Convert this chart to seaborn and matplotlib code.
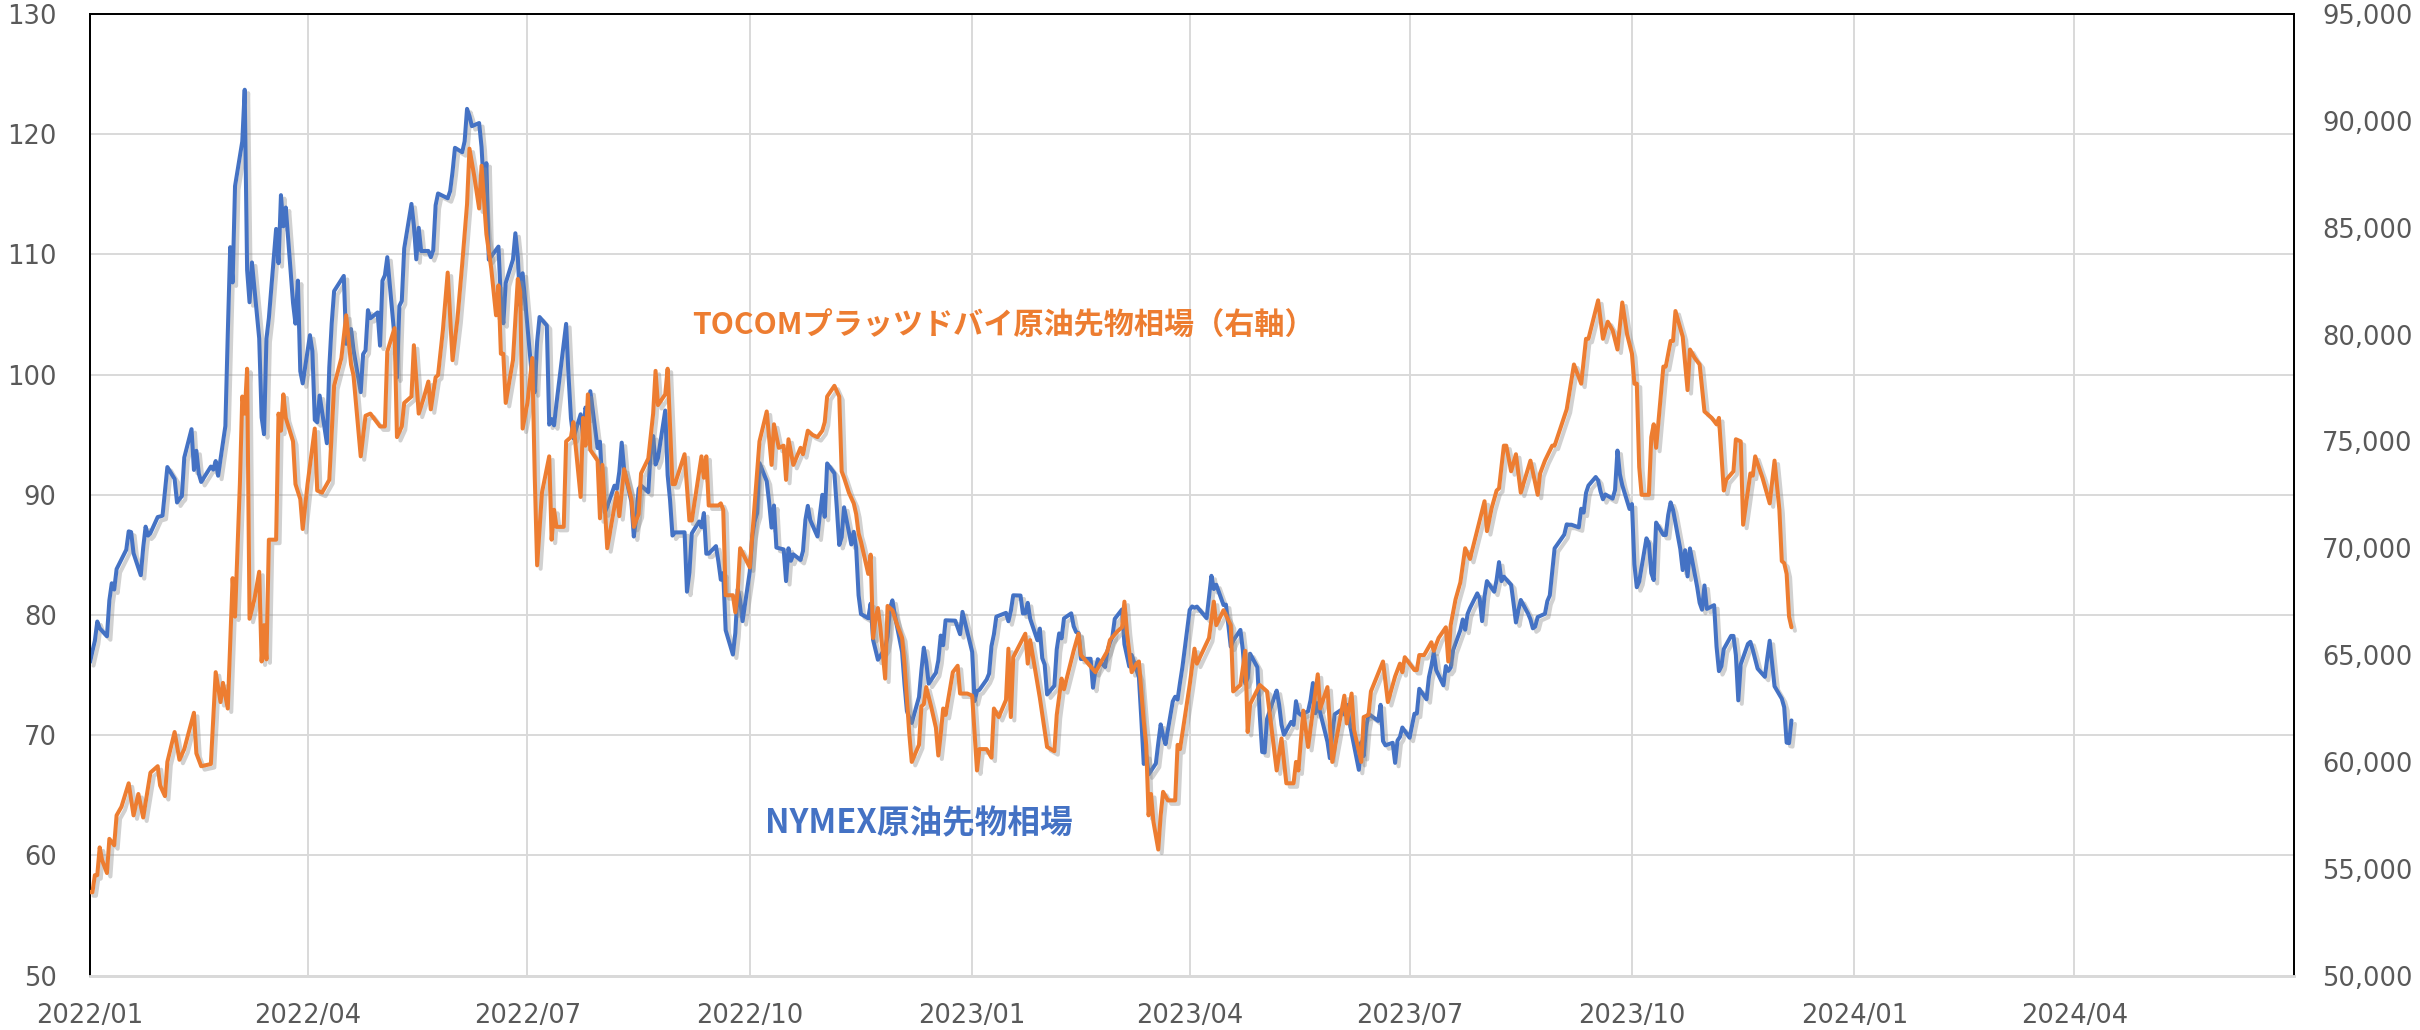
import numpy as np
import pandas as pd
import matplotlib
matplotlib.use("Agg")
import matplotlib.pyplot as plt
import matplotlib.patheffects as pe
from matplotlib.ticker import FuncFormatter
import seaborn as sns

# NYMEX WTI futures, USD/bbl, one value per US trading day
nymex_2022 = [
    76.08, 76.99, 77.85, 79.46, 78.90, 78.23, 81.22, 82.64, 82.12, 83.82, 85.43, 86.96, 86.90, 85.14, 83.31, 85.60, 87.35, 86.61, 86.82, 88.15,
    88.20, 88.26, 90.27, 92.31, 91.32, 89.36, 89.66, 89.88, 93.10, 95.46, 92.07, 93.66, 91.76, 91.07, 92.35, 92.10, 92.81, 91.59, 95.72,
    103.41, 110.60, 107.67, 115.68, 119.40, 123.70, 108.70, 106.02, 109.33, 103.01, 96.44, 95.04, 102.98, 104.70, 112.12, 109.27, 114.93, 112.34, 113.90, 105.96, 104.24, 107.82, 100.28,
    99.27, 103.28, 101.96, 96.23, 96.03, 98.26, 94.29, 100.60, 104.25, 106.95, 108.21, 102.56, 102.75, 103.79, 102.07, 98.54, 101.70, 102.02, 105.36, 104.69,
    105.17, 102.41, 107.81, 108.26, 109.77, 103.09, 99.76, 105.71, 106.13, 110.49, 114.20, 112.40, 109.59, 112.21, 110.28, 110.29, 109.77, 110.33, 114.09, 115.07, 114.67,
    115.26, 116.87, 118.87, 118.50, 119.41, 122.11, 121.51, 120.67, 120.93, 118.93, 115.31, 117.59, 109.56, 110.65, 106.19, 104.27, 107.62, 109.57, 111.76, 109.78, 105.76,
    108.43, 99.50, 98.53, 102.73, 104.79, 104.09, 95.84, 96.30, 95.78, 97.59, 102.60, 104.22, 99.88, 96.35, 94.70, 96.70, 94.98, 97.26, 96.42, 98.62,
    93.89, 94.42, 90.66, 88.54, 89.01, 90.76, 90.50, 91.93, 94.34, 92.09, 89.41, 86.53, 88.11, 90.50, 90.77, 90.23, 93.74, 94.89, 92.52, 93.06, 97.01, 91.64, 89.55,
    86.61, 86.87, 86.88, 81.94, 83.54, 86.79, 87.78, 87.31, 88.48, 85.10, 85.11, 85.73, 84.45, 82.94, 83.49, 78.74, 76.71, 78.50, 82.15, 81.23, 79.49,
    83.63, 86.52, 87.76, 88.45, 92.64, 91.13, 89.35, 87.27, 89.11, 85.61, 85.46, 82.82, 85.55, 84.51, 85.05, 84.58, 85.32, 87.91, 89.08, 87.90, 86.53,
    88.37, 90.00, 88.17, 92.61, 91.79, 88.91, 85.83, 86.47, 88.96, 85.87, 86.92, 85.59, 81.64, 80.08, 79.73, 80.95, 77.94, 76.28, 77.24, 78.20, 80.55,
    81.22, 79.98, 76.93, 74.25, 72.01, 71.46, 71.02, 73.17, 75.39, 77.28, 76.11, 74.29, 75.19, 76.23, 78.29, 77.49, 79.56, 79.53, 78.96, 78.40, 80.26,
]
nymex_2023 = [
    76.93, 72.84, 73.67, 73.77, 74.63, 75.12, 77.41, 78.39, 79.86, 80.18, 79.48, 80.33, 81.64, 81.62, 80.13, 80.15, 81.01, 79.68, 77.90, 78.87,
    76.41, 75.88, 73.39, 74.11, 77.14, 78.47, 78.06, 79.72, 80.14, 79.06, 78.59, 78.49, 76.34, 76.36, 73.95, 75.39, 76.32, 75.68, 77.05,
    77.69, 78.16, 79.68, 80.46, 77.58, 76.66, 75.72, 76.68, 74.80, 71.33, 67.61, 68.35, 66.74, 67.64, 69.33, 70.90, 69.96, 69.26, 72.81, 73.20, 72.97, 74.37, 75.67,
    80.42, 80.71, 80.61, 80.70, 79.74, 81.53, 83.26, 82.16, 82.52, 80.83, 80.86, 79.16, 77.37, 77.87, 78.76, 77.07, 74.30, 74.76, 76.78,
    75.66, 71.66, 68.60, 68.56, 71.34, 73.16, 73.71, 72.56, 70.87, 70.04, 71.11, 70.86, 72.83, 71.86, 71.69, 71.99, 72.91, 74.34, 71.83, 72.67, 69.46, 68.09,
    70.10, 71.74, 72.15, 71.74, 72.53, 71.29, 70.17, 67.12, 69.42, 68.27, 70.62, 71.78, 71.19, 72.53, 69.51, 69.16, 69.37, 67.70, 69.56, 69.86, 70.64,
    69.79, 71.79, 71.80, 73.86, 72.99, 74.83, 75.75, 76.89, 75.42, 74.15, 75.75, 75.35, 75.63, 77.07, 78.74, 79.63, 78.78, 80.09, 80.58, 81.80,
    81.37, 79.49, 81.55, 82.82, 81.94, 82.92, 84.40, 82.82, 83.19, 82.51, 80.99, 79.38, 80.39, 81.25, 80.12, 79.64, 78.89, 79.05, 79.83, 80.10, 81.16, 81.63, 83.63,
    85.55, 86.69, 87.54, 87.51, 87.51, 87.29, 88.84, 88.52, 90.16, 90.77, 91.48, 91.20, 90.28, 89.63, 90.03, 89.68, 90.39, 93.68, 91.71, 90.79,
    88.82, 89.23, 84.22, 82.31, 82.79, 86.38, 85.97, 83.49, 82.91, 87.69, 86.66, 86.66, 88.32, 89.37, 88.75, 85.49, 83.74, 85.39, 83.21, 85.54, 82.31, 81.02,
    80.44, 82.46, 80.51, 80.82, 77.37, 75.33, 75.74, 77.17, 78.26, 78.26, 76.66, 72.90, 75.89, 77.60, 77.77, 77.10, 75.54, 74.86, 76.41, 77.86, 75.96,
    74.07, 73.04, 72.32, 69.38, 69.34, 71.23,
]
us_holidays = [
    "2022-01-17", "2022-02-21", "2022-04-15", "2022-05-30", "2022-06-20", "2022-07-04", "2022-09-05", "2022-11-24", "2022-12-26",
    "2023-01-02", "2023-01-16", "2023-02-20", "2023-04-07", "2023-05-29", "2023-06-19", "2023-07-04", "2023-09-04", "2023-11-23",
]

# TOCOM Platts Dubai futures, JPY/kl (days since 2022-01-03)
tocom_day = [
    0, 1, 2, 3, 4, 5, 7, 8, 10, 11, 13, 16, 18, 20, 22, 25, 28, 29, 31, 32, 35, 37, 39, 43, 44, 46, 50, 52, 54, 55, 57, 59, 60,
    62, 63, 64, 65, 66, 68, 70, 71, 72, 73, 74, 77, 78, 79, 80, 81, 84, 85, 87, 88, 90, 93, 94, 96, 99, 101, 104, 106, 108, 109,
    112, 114, 116, 120, 122, 123, 126, 127, 129, 130, 133, 134, 136, 138, 140, 141, 143, 144, 146, 148, 150, 152, 154, 156, 157,
    159, 161, 162, 164, 166, 168, 169, 170, 171, 172, 175, 177, 178, 179, 181, 183, 184, 185, 187, 190, 191, 192, 193, 196, 197,
    199, 200, 201, 203, 204, 205, 206, 207, 210, 211, 212, 214, 218, 219, 221, 224, 225, 227, 228, 231, 233, 234, 235, 238, 239,
    241, 242, 246, 248, 249, 253, 254, 255, 256, 260, 261, 262, 263, 266, 267, 268, 269, 273, 277, 280, 282, 283, 285, 287, 288,
    289, 291, 294, 295, 297, 299, 301, 303, 304, 305, 308, 310, 311, 312, 314, 316, 317, 318, 319, 322, 323, 324, 325, 326, 327,
    329, 330, 332, 334, 336, 337, 339, 340, 343, 344, 345, 346, 348, 350, 351, 352, 353, 354, 357, 359, 360, 363, 365, 367, 368,
    371, 373, 374, 376, 379, 380, 381, 382, 387, 388, 389, 393, 396, 399, 400, 402, 403, 407, 409, 410, 413, 416, 421, 422, 425,
    427, 428, 429, 431, 433, 434, 436, 437, 438, 439, 440, 442, 443, 444, 446, 449, 450, 451, 453, 455, 457, 458, 463, 465, 466,
    469, 472, 473, 476, 478, 479, 480, 484, 487, 491, 493, 495, 498, 499, 500, 502, 504, 508, 509, 512, 514, 519, 520, 522, 523,
    526, 527, 529, 530, 535, 537, 540, 542, 543, 544, 548, 549, 550, 552, 555, 556, 558, 561, 562, 563, 565, 567, 569, 571, 577,
    578, 580, 582, 583, 585, 586, 588, 590, 592, 596, 599, 600, 602, 605, 606, 611, 614, 617, 619, 620, 624, 626, 628, 630, 632,
    634, 636, 638, 639, 640, 641, 642, 645, 646, 647, 648, 651, 652, 654, 655, 656, 659, 661, 662, 664, 666, 668, 671, 673, 674,
    676, 677, 680, 681, 683, 684, 687, 688, 689, 692, 695, 697, 699, 700, 701, 702, 703, 704,
]
tocom_yen = [
    53900, 53900, 54700, 54700, 56000, 55400, 54800, 56400, 56100, 57500, 57900, 59000, 57500, 58500, 57400, 59500, 59800, 58900, 58400, 60000, 61400, 60100, 60600, 62300, 60400, 59800, 59900, 64200, 62800, 63700, 62500, 68600, 66800,
    73000, 77100, 76300, 78400, 66700, 67600, 68900, 64700, 66400, 64800, 70400, 70400, 76300, 75500, 77200, 76100, 75000, 73000, 72300, 70900, 73000, 75600, 72700, 72600, 73200, 77600, 78900, 80900, 78600, 78100,
    74300, 76200, 76300, 75700, 75700, 79200, 80300, 75200, 75700, 76800, 77100, 79500, 76300, 77000, 77800, 76500, 78000, 78100, 80200, 82900, 78800, 80700, 83300, 86100, 88700,
    87400, 85900, 87900, 84700, 83100, 80900, 82300, 79100, 79100, 76800, 78800, 82600, 82000, 75600, 76800, 78900, 73400, 69200, 72600, 74300, 70400, 71800, 71000, 71000, 75000,
    75200, 75900, 74700, 72400, 76100, 74800, 77200, 74600, 74100, 71400, 73900, 70000, 72600, 71500, 73700, 72300, 71000, 71600, 73500, 74200, 76300, 78300, 76700, 77200, 78400,
    73000, 73000, 74400, 71300, 71300, 74300, 73300, 74300, 72000, 72000, 72100, 71800, 67800, 67800, 67000, 68000, 70000, 69100, 75000, 76400, 73900, 75800, 74700, 74800, 73200,
    75100, 73900, 74700, 74400, 75500, 75300, 75200, 75500, 75900, 77100, 77600, 77100, 73600, 73300, 72600, 72100, 71600, 70700, 70300, 68800, 69700, 65800, 66700, 67200, 66300,
    63900, 67300, 67100, 66400, 65800, 64600, 61300, 60000, 60800, 62600, 62700, 63500, 62600, 61600, 60300, 61300, 62500, 62200, 64200, 64500, 63200, 63200, 63100, 59600, 60600,
    60600, 60200, 62500, 62100, 62900, 65300, 62100, 64900, 66000, 64600, 65700, 63000, 60700, 60500, 62200, 63900, 63400, 65200, 66000, 65000, 64600, 64200, 65200, 65700, 66100,
    66300, 67500, 66100, 64200, 64600, 64700, 61900, 60800, 57500, 58500, 57200, 55900, 57500, 58600, 58200, 58200, 60800, 60600, 62100, 63600, 65300, 64600, 65800, 67500, 66400,
    67100, 66400, 63300, 63600, 65200, 61400, 62700, 63600, 63300, 59600, 61100, 59000, 59000, 60000, 59600, 62400, 60700, 64100, 62500, 63500, 60000, 63100, 61800, 63200, 61500,
    60000, 62100, 62200, 63300, 64700, 62800, 64000, 64600, 64200, 64900, 64300, 64300, 65000, 65000, 65600, 65200, 65800, 66300, 64700, 66400, 67600, 68400, 70000, 69500, 72200,
    70800, 71900, 72700, 72800, 74800, 74800, 73600, 74400, 72600, 74100, 72500, 73500, 74100, 74800, 74800, 76500, 78600, 77700, 79800, 79800, 81600, 79800, 80600, 80200, 79300,
    81500, 80000, 79100, 77700, 77700, 73800, 72500, 72500, 75200, 75800, 74700, 78500, 78500, 79700, 79700, 81100, 79900, 77400, 79300, 78900, 78600, 76400, 76100, 75800, 76100,
    72700, 73200, 73600, 75100, 75000, 71100, 73500, 73400, 74300, 73300, 72100, 74100, 71800, 69400, 69300, 68800, 66800, 66300,
]

nymex_label = "NYMEX原油先物相場"
tocom_label = "TOCOMプラッツドバイ原油先物相場（右軸）"

BLUE = "#4472C4"
ORANGE = "#ED7D31"
GRID = "#D9D9D9"
TICK = "#595959"

start = pd.Timestamp("2022-01-03")
nymex_dates = pd.bdate_range("2022-01-03", "2023-12-08", freq="C", holidays=us_holidays)
nymex_vals = nymex_2022 + nymex_2023
n = min(len(nymex_dates), len(nymex_vals))
nymex = pd.DataFrame({"date": nymex_dates[:n], "price": nymex_vals[:n]})
tocom = pd.DataFrame({"date": start + pd.to_timedelta(tocom_day, unit="D"), "price": tocom_yen})

sns.set_style("white")
plt.rcParams["font.family"] = ["DejaVu Sans"]

fig = plt.figure(figsize=(24.2, 10.3), dpi=100)
ax = fig.add_axes([0.0372, 0.0528, 0.9108, 0.9336])
ax2 = ax.twinx()

# soft drop shadow like the spreadsheet original
shadow = [pe.SimpleLineShadow(offset=(2.5, -2.5), shadow_color="#8c8c8c", alpha=0.4), pe.Normal()]

sns.lineplot(data=nymex, x="date", y="price", ax=ax, color=BLUE, linewidth=2.9,
             legend=False, path_effects=shadow, zorder=3)
sns.lineplot(data=tocom, x="date", y="price", ax=ax2, color=ORANGE, linewidth=2.9,
             legend=False, path_effects=shadow, zorder=3)

# axes limits and ticks
quarters = pd.date_range("2022-01-01", "2024-04-01", freq="QS") + pd.Timedelta(days=2)
ax.set_xlim(start, pd.Timestamp("2024-07-03"))
ax.set_xticks(quarters)
ax.set_xticklabels([d.strftime("%Y/%m") for d in quarters])
ax.set_ylim(50, 130)
ax.set_yticks(np.arange(50, 131, 10))
ax2.set_ylim(50000, 95000)
ax2.set_yticks(np.arange(50000, 95001, 5000))
ax2.yaxis.set_major_formatter(FuncFormatter(lambda v, _: f"{v:,.0f}"))

for a in (ax, ax2):
    a.set_xlabel("")
    a.set_ylabel("")

ax.grid(True, color=GRID, linewidth=1.4)
ax.set_axisbelow(True)
ax2.grid(False)

ax.tick_params(axis="y", length=0, pad=24, labelsize=18.5, labelcolor=TICK)
ax.tick_params(axis="x", length=5, width=1.2, color=GRID, pad=15, labelsize=18.5, labelcolor=TICK)
ax2.tick_params(axis="y", length=0, pad=20, labelsize=18.5, labelcolor=TICK)

for a in (ax, ax2):
    for side in ("left", "top", "right"):
        a.spines[side].set_color("black")
        a.spines[side].set_linewidth(1.3)
    a.spines["bottom"].set_color(GRID)
    a.spines["bottom"].set_linewidth(2)

cjk = ["Noto Sans CJK JP", "DejaVu Sans"]
ax.text(0.4146, 0.676, tocom_label, transform=ax.transAxes, ha="center", va="center",
        fontsize=21.7, fontweight="bold", color=ORANGE, family=cjk, zorder=5)
ax.text(0.3758, 0.158, nymex_label, transform=ax.transAxes, ha="center", va="center",
        fontsize=23.5, fontweight="bold", color=BLUE, family=cjk, zorder=5)

fig.savefig("out.png", dpi=100)
